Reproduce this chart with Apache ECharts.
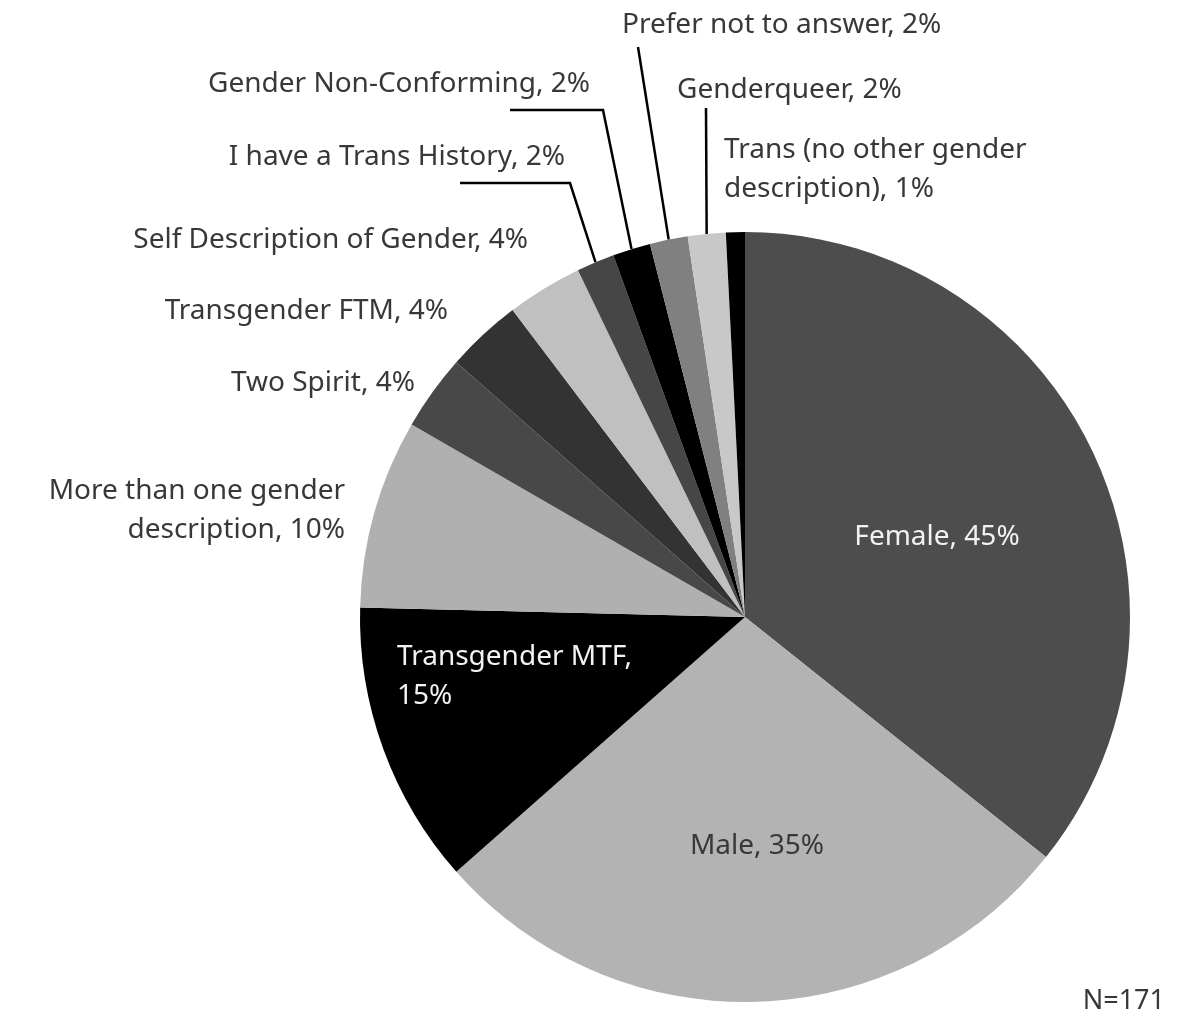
<!DOCTYPE html>
<html>
<head>
<meta charset="utf-8">
<script src="https://cdn.jsdelivr.net/npm/echarts@6/dist/echarts.min.js"></script>
<style>
  html, body { margin: 0; padding: 0; background: #fff; }
  #chart { width: 1180px; height: 1026px; }
</style>
</head>
<body>
<div id="chart"></div>
<script>
// 数据
var categories = [
  'Female',
  'Male',
  'Transgender MTF',
  'More than one gender\ndescription',
  'Two Spirit',
  'Transgender FTM',
  'Self Description of Gender',
  'I have a Trans History',
  'Gender Non-Conforming',
  'Prefer not to answer',
  'Genderqueer',
  'Trans (no other gender\ndescription)'
]
var percents = [45, 35, 15, 10, 4, 4, 4, 2, 2, 2, 2, 1]
var colors = ['#4d4d4d', '#b3b3b3', '#000000', '#b0b0b0', '#484848', '#333333',
  '#c0c0c0', '#464646', '#000000', '#808080', '#c8c8c8', '#000000']

// 标签位置 (label placement only)
var labelPos = [
  { x: 937, y: 537, align: 'center', color: '#f2f2f2' },
  { x: 757, y: 846, align: 'center' },
  { x: 397, y: 677, align: 'left', color: '#f2f2f2', wrap: true },
  { x: 345, y: 511, align: 'right' },
  { x: 415, y: 383, align: 'right' },
  { x: 448, y: 311, align: 'right' },
  { x: 528, y: 240, align: 'right' },
  { x: 565, y: 157, align: 'right', line: [[570, 183], [460, 183]] },
  { x: 590, y: 84, align: 'right', line: [[603, 110], [510, 110]] },
  { x: 622, y: 25, align: 'left', line: [[638, 47]] },
  { x: 677, y: 90, align: 'left', line: [[706, 108]] },
  { x: 724, y: 170, align: 'left' }
]

var chart = echarts.init(document.getElementById('chart'))

var seriesData = categories.map(function (name, i) {
  return {
    name: name,
    value: percents[i],
    itemStyle: { color: colors[i] },
    label: { color: labelPos[i].color || '#383838' },
    labelLine: { show: !!labelPos[i].line }
  }
})

var option = {
  animation: false,
  title: {
    text: 'N=171',
    right: 10,
    bottom: 6,
    textStyle: {
      fontFamily: 'Noto Sans',
      fontSize: 27,
      fontWeight: 'normal',
      color: '#383838'
    }
  },
  series: [
    {
      type: 'pie',
      center: [745, 617],
      radius: 385,
      startAngle: 90,
      clockwise: true,
      avoidLabelOverlap: false,
      data: seriesData,
      itemStyle: { borderWidth: 0 },
      label: {
        show: true,
        position: 'outside',
        fontFamily: 'Noto Sans',
        fontSize: 28,
        lineHeight: 39,
        formatter: function (p) {
          var sep = labelPos[p.dataIndex].wrap ? ',\n' : ', '
          return p.name + sep + p.value + '%'
        }
      },
      labelLine: {
        lineStyle: { color: '#000', width: 2.5 }
      },
      labelLayout: function (params) {
        var pos = labelPos[params.dataIndex]
        var out = {
          x: pos.x,
          y: pos.y,
          align: pos.align,
          verticalAlign: 'middle',
          hideOverlap: false
        }
        if (pos.line && params.labelLinePoints) {
          out.labelLinePoints = [params.labelLinePoints[0]].concat(pos.line)
        }
        return out
      }
    }
  ]
}

chart.setOption(option)
window.addEventListener('resize', function () {
  chart.resize()
})
</script>
</body>
</html>
